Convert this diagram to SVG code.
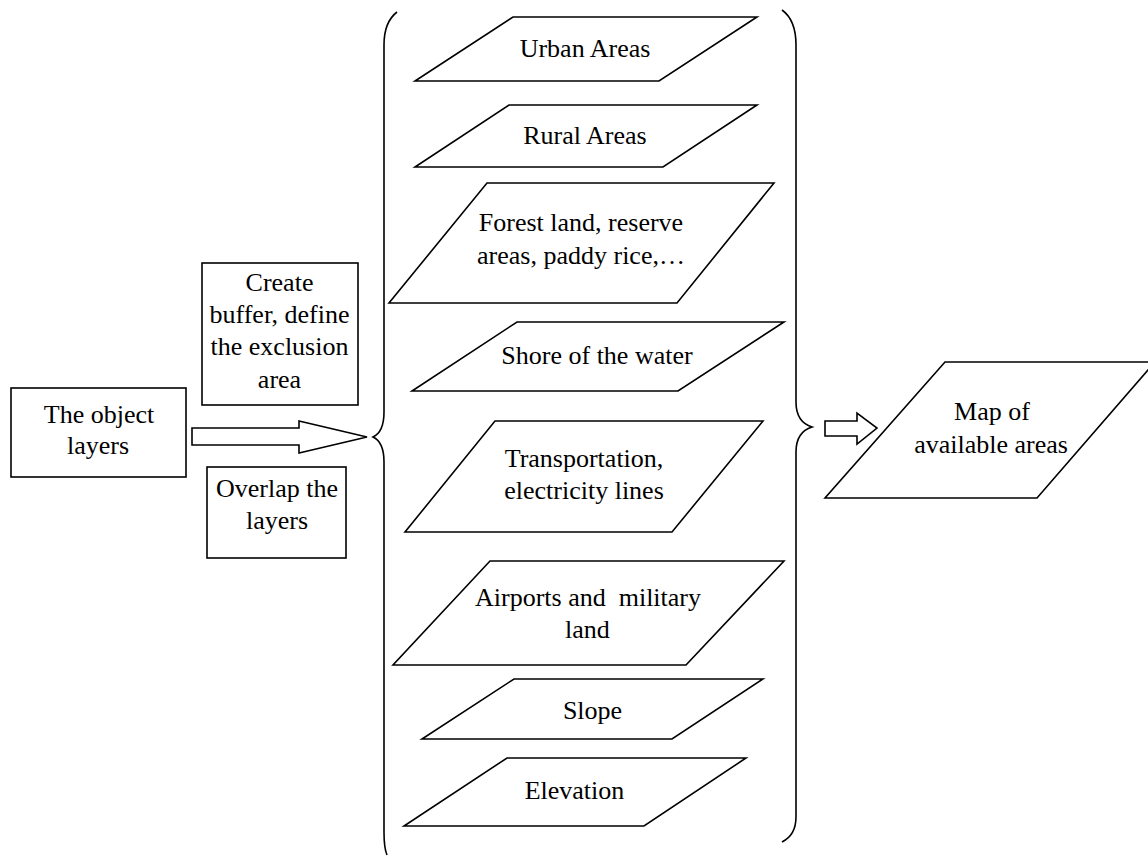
<svg xmlns="http://www.w3.org/2000/svg" width="1148" height="857" viewBox="0 0 1148 857">
<style>
.s{fill:#fff;stroke:#000;stroke-width:1.6}
.b{fill:none;stroke:#000;stroke-width:1.6}
</style>
<rect width="1148" height="857" fill="#fff"/>
<g id="object-layers"><rect class="s" x="11" y="388" width="175" height="89"/><text font-family="Liberation Serif, serif" font-size="26" text-anchor="middle" x="99" y="423">The object</text><text font-family="Liberation Serif, serif" font-size="26" text-anchor="middle" x="98" y="454">layers</text></g>
<g id="create-buffer"><rect class="s" x="202" y="263" width="156" height="142"/><text font-family="Liberation Serif, serif" font-size="26" text-anchor="middle" x="279.5" y="291">Create</text><text font-family="Liberation Serif, serif" font-size="26" text-anchor="middle" x="279.5" y="323">buffer, define</text><text font-family="Liberation Serif, serif" font-size="26" text-anchor="middle" x="279.5" y="355">the exclusion</text><text font-family="Liberation Serif, serif" font-size="26" text-anchor="middle" x="279.5" y="388">area</text></g>
<g id="overlap"><rect class="s" x="207" y="467" width="139" height="91"/><text font-family="Liberation Serif, serif" font-size="26" text-anchor="middle" x="277" y="497">Overlap the</text><text font-family="Liberation Serif, serif" font-size="26" text-anchor="middle" x="277" y="529">layers</text></g>
<g id="urban"><polygon class="s" points="513,17 757,17 659,81 415,81"/><text font-family="Liberation Serif, serif" font-size="26" text-anchor="middle" x="585" y="57">Urban Areas</text></g>
<g id="rural"><polygon class="s" points="509,105 757,105 663,167 415,167"/><text font-family="Liberation Serif, serif" font-size="26" text-anchor="middle" x="585" y="144">Rural Areas</text></g>
<g id="forest"><polygon class="s" points="487,183 774,183 677,303 389,303"/><text font-family="Liberation Serif, serif" font-size="26" text-anchor="middle" x="581" y="231">Forest land, reserve</text><text font-family="Liberation Serif, serif" font-size="26" text-anchor="middle" x="581" y="264">areas, paddy rice,…</text></g>
<g id="shore"><polygon class="s" points="517,322 784,322 678,391 412,391"/><text font-family="Liberation Serif, serif" font-size="26" text-anchor="middle" x="597" y="364">Shore of the water</text></g>
<g id="transport"><polygon class="s" points="495,421 763,421 672,532 405,532"/><text font-family="Liberation Serif, serif" font-size="26" text-anchor="middle" x="584" y="467">Transportation,</text><text font-family="Liberation Serif, serif" font-size="26" text-anchor="middle" x="584" y="499">electricity lines</text></g>
<g id="airports"><polygon class="s" points="490,561 784,561 686,665 393,665"/><text font-family="Liberation Serif, serif" font-size="26" text-anchor="middle" x="588" y="606" xml:space="preserve">Airports and  military</text><text font-family="Liberation Serif, serif" font-size="26" text-anchor="middle" x="587.5" y="638">land</text></g>
<g id="slope"><polygon class="s" points="514,679 763,679 672,739 422,739"/><text font-family="Liberation Serif, serif" font-size="26" text-anchor="middle" x="592.5" y="719">Slope</text></g>
<g id="elevation"><polygon class="s" points="507,758 746,758 644,826 404,826"/><text font-family="Liberation Serif, serif" font-size="26" text-anchor="middle" x="574.5" y="799">Elevation</text></g>
<g id="map"><polygon class="s" points="945,362 1155,362 1037,498 825,498"/><text font-family="Liberation Serif, serif" font-size="26" text-anchor="middle" x="992" y="420">Map of</text><text font-family="Liberation Serif, serif" font-size="26" text-anchor="middle" x="991" y="453">available areas</text></g>
<g id="connectors">
<path class="b" d="M397,12 Q384,22 384,45 L384,412 Q384,432 373,437 Q384,442 384,462 L384,832 Q384,848 387,855"/>
<path class="b" d="M782,10 Q796,20 796,45 L796,402 Q796,422 812,427 Q796,432 796,452 L796,817 Q796,835 782,842"/>
<polygon class="s" points="192,428 299,428 299,421 367,437 299,453 299,445 192,445"/>
<polygon class="s" points="825,421 857,421 857,413 877,428 857,444 857,436 825,436"/>
</g>
</svg>
